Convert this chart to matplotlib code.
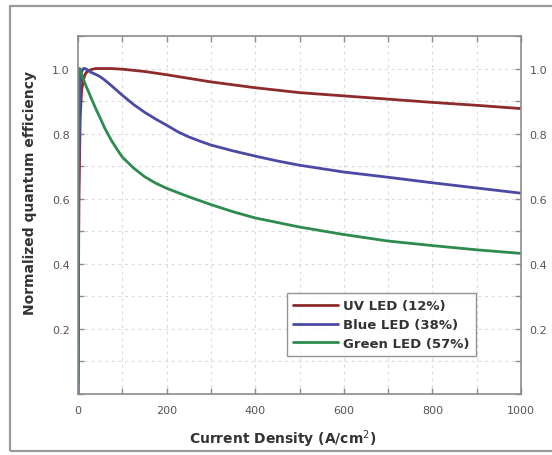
import matplotlib
matplotlib.use("Agg")
import matplotlib.pyplot as plt
from matplotlib.patches import Rectangle
from matplotlib.ticker import MultipleLocator

# Normalized quantum efficiency vs. current density (A/cm^2) for three LEDs
uv_j = [0, 2, 5, 8, 12, 16, 20, 30, 40, 50, 60, 75, 100, 150, 200, 250,
        300, 400, 500, 600, 700, 800, 900, 1000]
uv_eff = [0.0, 0.6, 0.85, 0.93, 0.965, 0.982, 0.99, 0.997, 1.0, 1.0, 1.0,
          1.0, 0.998, 0.991, 0.981, 0.97, 0.959, 0.941, 0.926, 0.916, 0.906,
          0.896, 0.887, 0.877]

blue_j = [0, 2, 5, 8, 12, 16, 20, 25, 30, 40, 50, 60, 75, 90, 100, 125, 150,
          175, 200, 225, 250, 275, 300, 350, 400, 450, 500, 600, 700, 800,
          900, 1000]
blue_eff = [0.0, 0.7, 0.95, 0.99, 1.0, 1.0, 0.997, 0.993, 0.988, 0.982,
            0.975, 0.965, 0.948, 0.93, 0.918, 0.89, 0.866, 0.845, 0.826,
            0.806, 0.79, 0.777, 0.765, 0.747, 0.731, 0.716, 0.703, 0.682,
            0.666, 0.649, 0.633, 0.617]

green_j = [0, 2, 4, 6, 8, 10, 15, 20, 25, 30, 40, 50, 60, 75, 90, 100, 125,
           150, 175, 200, 225, 250, 275, 300, 350, 400, 450, 500, 600, 700,
           800, 900, 1000]
green_eff = [0.03, 0.99, 1.0, 0.99, 0.982, 0.975, 0.957, 0.94, 0.925, 0.908,
             0.877, 0.848, 0.818, 0.78, 0.748, 0.728, 0.695, 0.668, 0.648,
             0.632, 0.619, 0.606, 0.594, 0.582, 0.56, 0.541, 0.527, 0.513,
             0.49, 0.47, 0.456, 0.443, 0.432]

series_labels = ["UV LED (12%)", "Blue LED (38%)", "Green LED (57%)"]
series_colors = ["#8f2a2a", "#4a4aa6", "#2e8b4f"]

x_ticks = [0, 200, 400, 600, 800, 1000]
y_ticks = [0.2, 0.4, 0.6, 0.8, 1.0]

fig = plt.figure(figsize=(5.52, 4.56), dpi=100)
fig.patch.set_facecolor("white")

# outer frame around the figure
fig.add_artist(Rectangle((10 / 552, 1 - 452 / 456), 560 / 552, 445 / 456,
                         transform=fig.transFigure, fill=False,
                         edgecolor="#9a9a9a", linewidth=1.6))

ax = fig.add_axes([78 / 552, 1 - 395 / 456, 443 / 552, 358 / 456])

for xs, ys, lab, col in zip([uv_j, blue_j, green_j],
                            [uv_eff, blue_eff, green_eff],
                            series_labels, series_colors):
    ax.plot(xs, ys, color=col, linewidth=2.0, label=lab,
            solid_joinstyle="round", solid_capstyle="round")

ax.set_xlim(0, 1000)
ax.set_ylim(0, 1.1)
ax.set_xticks(x_ticks)
ax.set_yticks(y_ticks)
ax.xaxis.set_minor_locator(MultipleLocator(100))
ax.yaxis.set_minor_locator(MultipleLocator(0.1))
ax.set_yticklabels([f"{v:.1f}" for v in y_ticks])

ax.grid(which="both", color="#dadada", linestyle=(0, (2.5, 3.5)), linewidth=0.8)
ax.set_axisbelow(True)

for s in ax.spines.values():
    s.set_color("#8c8c8c")
    s.set_linewidth(1.2)

ax.tick_params(which="both", direction="in", top=True, right=True,
               length=4, width=1, color="#8c8c8c",
               labelright=True, labelsize=8, labelcolor="#555555", pad=6)
ax.tick_params(axis="x", which="major", pad=8)

ax.set_xlabel("Current Density (A/cm$^2$)", fontsize=10, fontweight="bold",
              color="#333333")
ax.xaxis.set_label_coords(0.463, -0.093)
ax.set_ylabel("Normalized quantum efficiency", fontsize=10, fontweight="bold",
              color="#333333")
ax.yaxis.set_label_coords(-0.093, 0.564)

leg = ax.legend(loc="lower left", bbox_to_anchor=(0.472, 0.106),
                frameon=True, fancybox=False, handlelength=3.4,
                borderpad=0.45, labelspacing=0.45, handletextpad=0.4,
                borderaxespad=0.0,
                prop={"weight": "bold", "size": 9.5})
leg.get_frame().set_edgecolor("#7a7a7a")
leg.get_frame().set_linewidth(1.0)
for t in leg.get_texts():
    t.set_color("#333333")

fig.savefig("out.png", dpi=100)
